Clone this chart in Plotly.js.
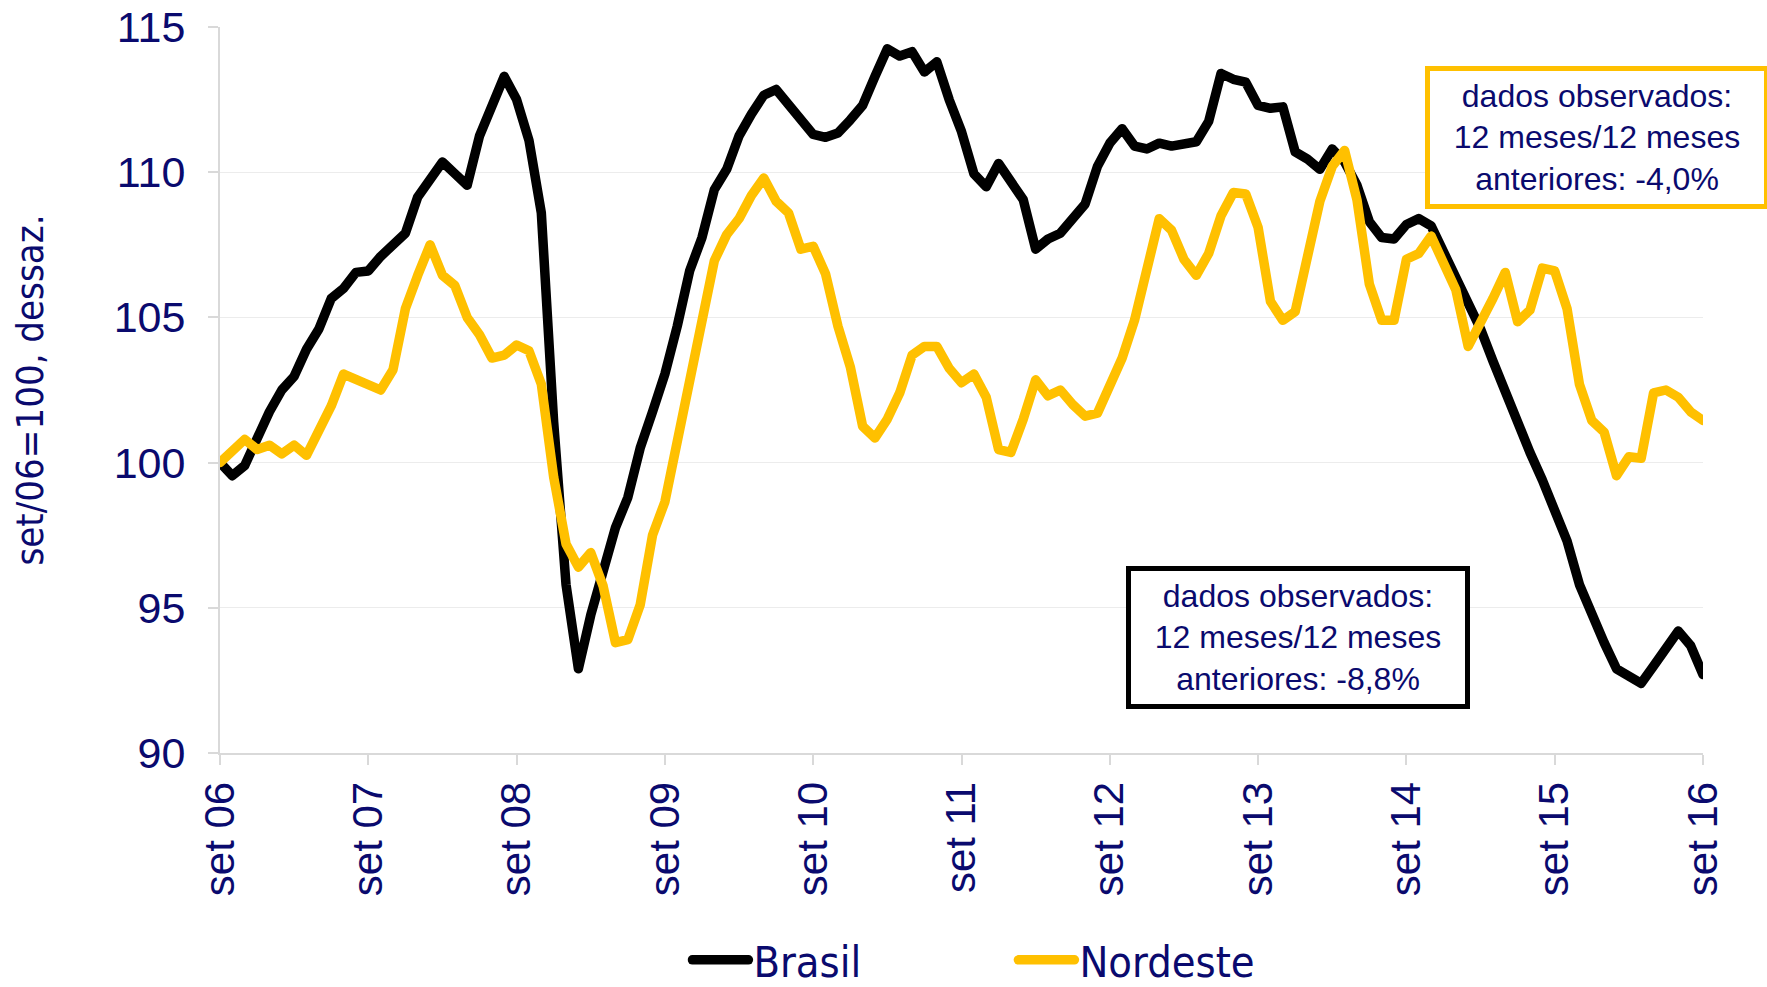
<!DOCTYPE html>
<html>
<head>
<meta charset="utf-8">
<script src="https://cdn.plot.ly/plotly-3.0.1.min.js"></script>
<style>
  html, body { margin: 0; padding: 0; background: #ffffff; }
  #chart { width: 1767px; height: 987px; }
  #chart .js-line { stroke-linejoin: round; stroke-linecap: round; }
</style>
</head>
<body>
<div id="chart"></div>
<script>
// Monthly index, set/06 = 100, seasonally adjusted (set/06 .. set/16)
const monthAbbr = ['jan','fev','mar','abr','mai','jun','jul','ago','set','out','nov','dez'];

const brasil = [
  100.0, 99.55, 99.9, 100.9, 101.75, 102.5, 102.97, 103.9, 104.6, 105.65, 106.0, 106.55,
  106.6, 107.1, 107.5, 107.9, 109.15, 109.7, 110.35, 109.95, 109.55, 111.25, 112.25, 113.3,
  112.5, 111.1, 108.6, 101.4, 95.8, 92.9, 94.75, 96.3, 97.76, 98.8, 100.5, 101.75,
  103.05, 104.7, 106.6, 107.75, 109.4, 110.1, 111.25, 112.0, 112.65, 112.85, 112.3, 111.8,
  111.3, 111.2, 111.35, 111.8, 112.3, 113.3, 114.25, 114.0, 114.15, 113.45, 113.8, 112.5,
  111.4, 109.95, 109.5, 110.3, 109.7, 109.05, 107.35, 107.7, 107.9, 108.35, 108.9, 110.2,
  111.0, 111.5, 110.9, 110.8, 111.0, 110.9, 111.0, 111.05, 111.75, 113.4, 113.2, 113.1,
  112.3, 112.2, 112.25, 110.7, 110.45, 110.1, 110.8, 110.35, 109.55, 108.3, 107.75, 107.7,
  108.2, 108.4, 108.15, 107.3, 106.4, 105.5, 104.6, 103.5, 102.4, 101.35, 100.35, 99.4,
  98.3, 97.3, 95.8, 94.7, 93.8, 92.9, 92.65, 92.4, 93.0, 93.6, 94.2, 93.7,
  92.7
];

const nordeste = [
  100.0, 100.4, 100.8, 100.45, 100.6, 100.3, 100.6, 100.25, 101.1, 101.95, 103.05, 102.85,
  102.65, 102.5, 103.2, 105.3, 106.45, 107.5, 106.45, 106.1, 105.0, 104.4, 103.6, 103.7,
  104.05, 103.85, 102.7, 99.5, 97.2, 96.4, 96.9, 95.75, 93.8, 93.9, 95.1, 97.5,
  98.65, 100.8, 102.7, 105.0, 106.95, 107.85, 108.4, 109.2, 109.8, 109.0, 108.6, 107.35,
  107.45, 106.5, 104.7, 103.3, 101.25, 100.85, 101.5, 102.4, 103.7, 104.0, 104.0, 103.25,
  102.75, 103.05, 102.25, 100.45, 100.35, 101.5, 102.85, 102.3, 102.5, 102.0, 101.6, 101.7,
  102.7, 103.6, 104.9, 106.55, 108.4, 108.0, 107.0, 106.45, 107.2, 108.5, 109.3, 109.25,
  108.1, 105.55, 104.9, 105.2, 107.3, 109.0, 110.2, 110.75, 109.05, 106.15, 104.9, 104.9,
  107.0, 107.2, 107.8, 106.95, 105.95, 104.0, 104.75, 105.65, 106.55, 104.85, 105.25, 106.7,
  106.6, 105.3, 102.7, 101.45, 101.05, 99.55, 100.2, 100.15, 102.4, 102.5, 102.25, 101.75,
  101.45
];

// Category labels: one per month, starting set/06
const months = [];
for (let i = 0; i < brasil.length; i++) {
  const mi = (8 + i) % 12;
  const yr = 6 + Math.floor((8 + i) / 12);
  months.push(monthAbbr[mi] + '/' + String(yr).padStart(2, '0'));
}
const tickMonths = ['set/06','set/07','set/08','set/09','set/10','set/11','set/12','set/13','set/14','set/15','set/16'];
const tickLabels = ['set 06','set 07','set 08','set 09','set 10','set 11','set 12','set 13','set 14','set 15','set 16'];

const yTicks = [90, 95, 100, 105, 110, 115];

const navy = '#0a0a6e';
const narrow = '"Liberation Sans Narrow", "Arial Narrow", "DejaVu Sans Condensed", sans-serif';
const arial = '"Liberation Sans", Arial, sans-serif';

const traces = [
  { x: months, y: brasil, name: 'Brasil', type: 'scatter', mode: 'lines',
    line: { color: '#000000', width: 9.5 } },
  { x: months, y: nordeste, name: 'Nordeste', type: 'scatter', mode: 'lines',
    line: { color: '#FFC000', width: 9.5 } }
];

const layout = {
  width: 1767, height: 987,
  margin: { l: 220, r: 64, t: 27, b: 234, pad: 0, autoexpand: false },
  paper_bgcolor: '#ffffff', plot_bgcolor: '#ffffff',
  showlegend: true,
  xaxis: {
    type: 'category', range: [0, 120], automargin: false,
    tickmode: 'array', tickvals: tickMonths, ticktext: tickLabels,
    tickangle: -90, tickfont: { family: arial, size: 42, color: navy },
    ticks: 'outside', ticklen: 10, tickwidth: 2, tickcolor: '#d9d9d9',
    showline: true, linecolor: '#d9d9d9', linewidth: 2,
    showgrid: false, zeroline: false, fixedrange: true
  },
  yaxis: {
    range: [90, 115], automargin: false,
    tickmode: 'array', tickvals: yTicks,
    tickfont: { family: arial, size: 43, color: navy },
    ticks: 'outside', ticklen: 10, tickwidth: 2, tickcolor: '#d9d9d9',
    ticklabelstandoff: 14,
    showline: true, linecolor: '#d9d9d9', linewidth: 2,
    showgrid: true, gridcolor: '#ececec', gridwidth: 1,
    zeroline: false, fixedrange: true,
    title: { text: 'set/06=100, dessaz.', font: { family: narrow, size: 38, color: navy }, standoff: 58 }
  },
  legend: {
    orientation: 'h', x: 0.535, xanchor: 'center', y: -0.285, yanchor: 'middle',
    font: { family: narrow, size: 43, color: navy },
    itemwidth: 56, entrywidth: 255, bgcolor: 'rgba(0,0,0,0)'
  },
  annotations: [
    { xref: 'paper', yref: 'paper', x: 0.727, y: 0.159, xanchor: 'center', yanchor: 'middle',
      text: 'dados observados:<br>12 meses/12 meses<br>anteriores: -8,8%', showarrow: false,
      align: 'center', font: { family: arial, size: 32, color: navy },
      bordercolor: '#000000', borderwidth: 5, borderpad: 3, bgcolor: '#ffffff',
      width: 328, height: 127 },
    { xref: 'paper', yref: 'paper', x: 0.9285, y: 0.848, xanchor: 'center', yanchor: 'middle',
      text: 'dados observados:<br>12 meses/12 meses<br>anteriores: -4,0%', showarrow: false,
      align: 'center', font: { family: arial, size: 32, color: navy },
      bordercolor: '#FFC000', borderwidth: 5, borderpad: 3, bgcolor: '#ffffff',
      width: 328, height: 127 }
  ]
};

Plotly.newPlot('chart', traces, layout, { displayModeBar: false, staticPlot: true });
</script>
</body>
</html>
